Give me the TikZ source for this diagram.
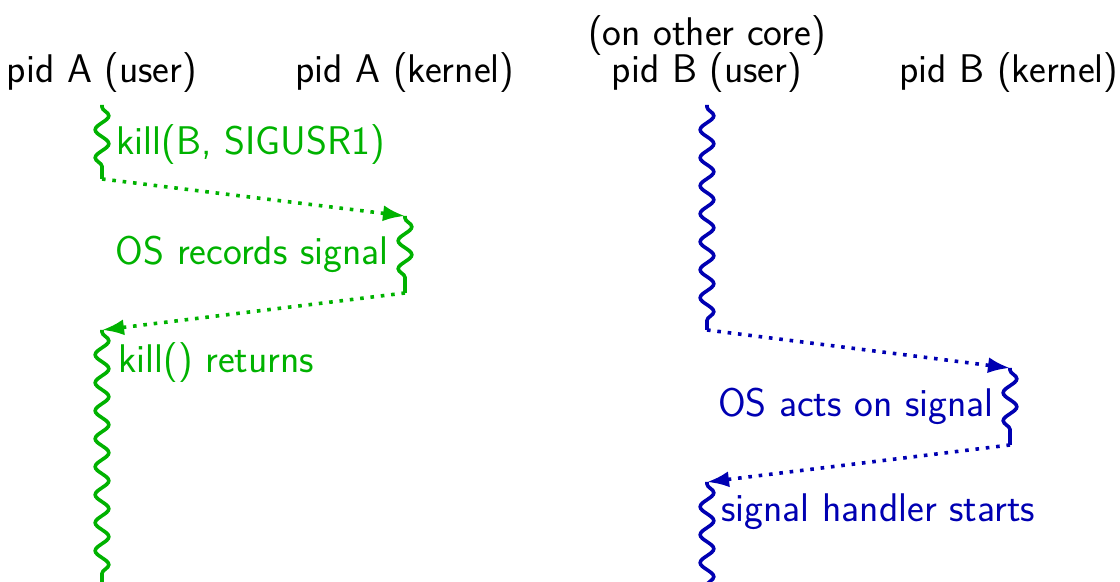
\documentclass[tikz,border=0pt]{standalone}
\usetikzlibrary{decorations.pathmorphing,arrows.meta}
\definecolor{procA}{RGB}{0,178,0}
\definecolor{procB}{RGB}{0,0,178}
\begin{document}
\begin{tikzpicture}[x=0.5pt,y=-0.5pt,
  every node/.style={font=\sffamily\fontsize{20}{24}\selectfont, inner sep=0pt},
  run/.style={decorate, decoration={snake,segment length=14pt,amplitude=3.4pt,
      pre length=1pt,post length=2pt}, line width=1.8pt},
  msg/.style={line width=1.8pt, dash pattern=on 1.8pt off 3.4pt,
      -{Latex[length=11pt,width=8pt]}}]
\useasboundingbox (0,0) rectangle (1120,582);

% column headings
\node[anchor=base] (hAu) at (102,83) {pid A (user)};
\node[anchor=base] (hAk) at (405,83) {pid A (kernel)};
\node[anchor=base] (hBu) at (707,83) {pid B (user)};
\node[anchor=base] (hBc) at (707,46) {(on other core)};
\node[anchor=base] (hBk) at (1009,83) {pid B (kernel)};

% time points of process A
\coordinate (a1) at (102,105);
\coordinate (a2) at (102,179);
\coordinate (a3) at (405,216);
\coordinate (a4) at (405,293);
\coordinate (a5) at (102,330);
\coordinate (a6) at (102,590);

% time points of process B
\coordinate (b1) at (707,105);
\coordinate (b2) at (707,330);
\coordinate (b3) at (1010,368);
\coordinate (b4) at (1010,445);
\coordinate (b5) at (707,482);
\coordinate (b6) at (707,590);

% process A
\begin{scope}[color=procA]
  \draw[run] (a1) -- (a2);
  \draw[msg] (a2) -- (a3);
  \draw[run] (a3) -- (a4);
  \draw[msg] (a4) -- (a5);
  \draw[run] (a5) -- (a6);
  \node[anchor=base west] (lkill) at (116,155) {kill(B, SIGUSR1)};
  \node[anchor=base east] (lrec) at (389,265) {OS records signal};
  \node[anchor=base west] (lret) at (118,373) {kill() returns};
\end{scope}

% process B
\begin{scope}[color=procB]
  \draw[run] (b1) -- (b2);
  \draw[msg] (b2) -- (b3);
  \draw[run] (b3) -- (b4);
  \draw[msg] (b4) -- (b5);
  \draw[run] (b5) -- (b6);
  \node[anchor=base east] (lact) at (994,417) {OS acts on signal};
  \node[anchor=base west] (lhnd) at (721,522) {signal handler starts};
\end{scope}
\end{tikzpicture}
\end{document}
